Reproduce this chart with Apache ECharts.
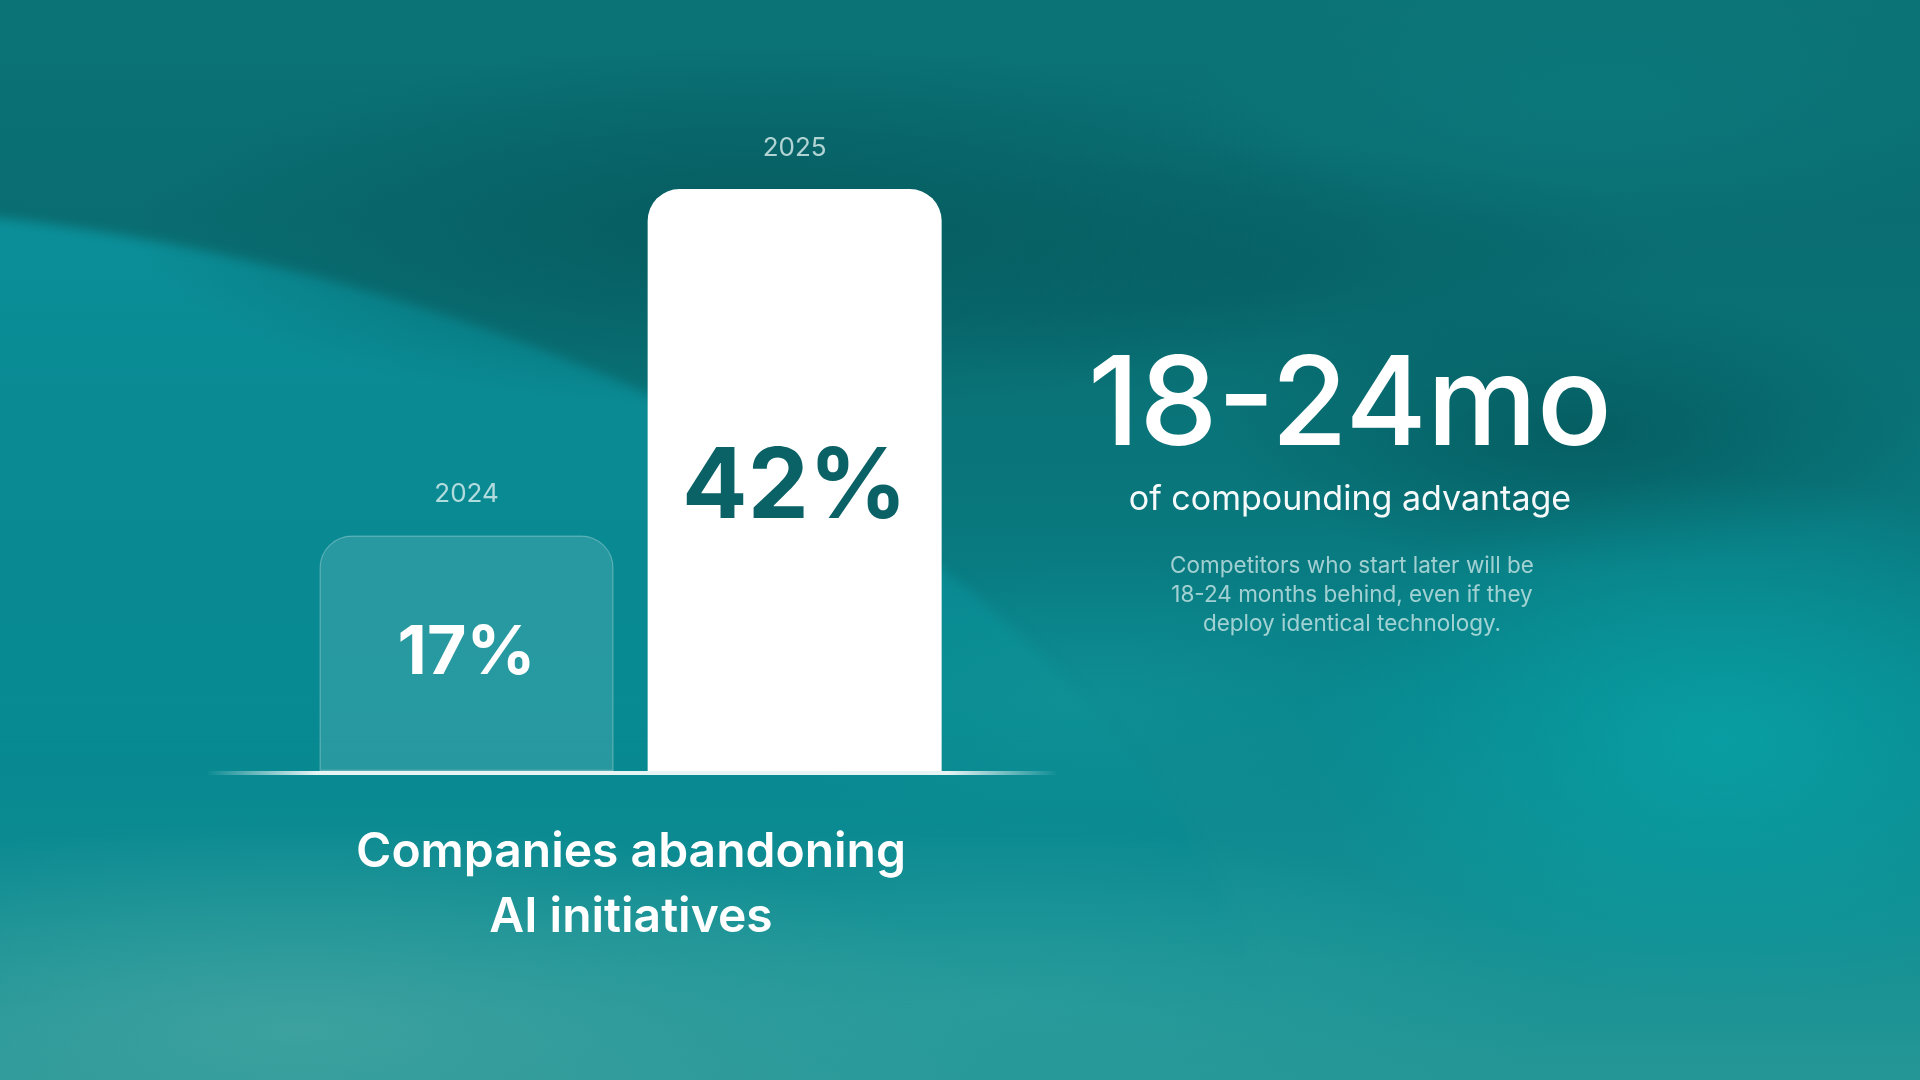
<!DOCTYPE html>
<html>
<head>
<meta charset="utf-8">
<script src="https://cdn.jsdelivr.net/npm/echarts@6/dist/echarts.min.js"></script>
<style>
html,body{margin:0;padding:0;width:1920px;height:1080px;overflow:hidden;background:#0a6e72;}
.l{position:absolute;}
#base{left:0;top:0;width:1920px;height:1080px;
background:linear-gradient(180deg,#0b7376 0%,#0a6d71 20%,#09767b 45%,#08858d 65%,#138f93 85%,#259696 100%);}
#streak{left:0;top:0;width:1920px;height:1080px;
background:
radial-gradient(ellipse 900px 260px at 760px 230px, rgba(4,88,92,0.85), rgba(4,88,92,0) 70%),
radial-gradient(ellipse 520px 200px at 1580px 430px, rgba(4,90,94,0.85), rgba(4,90,94,0) 70%),
radial-gradient(ellipse 650px 180px at 1250px 270px, rgba(4,92,96,0.6), rgba(4,92,96,0) 70%),
radial-gradient(ellipse 600px 220px at 1600px 100px, rgba(12,124,128,0.6), rgba(12,124,128,0) 70%);}
#band{left:-1900px;top:200px;width:3200px;height:2000px;border-radius:50%;
background:linear-gradient(180deg,#0b8f99 0%,#0a8a93 12%,#088a92 25%,rgba(8,136,144,0) 40%);
filter:blur(6px);}
#glow{left:0;top:0;width:1920px;height:1080px;
background:
radial-gradient(ellipse 1000px 300px at 300px 1030px, rgba(62,162,160,0.95), rgba(62,162,160,0) 70%),
radial-gradient(ellipse 800px 250px at 1000px 1000px, rgba(45,158,158,0.7), rgba(45,158,158,0) 70%),
radial-gradient(ellipse 600px 380px at 1720px 740px, rgba(8,160,164,0.9), rgba(8,160,164,0) 70%),
radial-gradient(ellipse 500px 200px at 1100px 700px, rgba(20,150,152,0.5), rgba(20,150,152,0) 70%);}
#chart{position:absolute;left:0;top:0;width:1920px;height:1080px;}
</style>
</head>
<body>
<div class="l" id="base"></div>
<div class="l" id="band"></div>
<div class="l" id="streak"></div>
<div class="l" id="glow"></div>
<div id="chart"></div>
<script>
const categories = ['2024', '2025'];
const values = [17, 42];
const valueLabels = ['17%', '42%'];
const chartTitle = 'Companies abandoning\nAI initiatives';
const statHeadline = '18-24mo';
const statSub = 'of compounding advantage';
const statNote = 'Competitors who start later will be\n18-24 months behind, even if they\ndeploy identical technology.';

const chart = echarts.init(document.getElementById('chart'), null, {renderer: 'canvas'});
const FONT = 'Inter, "Noto Sans", sans-serif';

const barStyles = [
  {color: 'rgba(255,255,255,0.13)', borderColor: 'rgba(255,255,255,0.28)', borderWidth: 1.2, borderRadius: [32,32,0,0]},
  {color: '#ffffff', borderRadius: [32,32,0,0]}
];
const labelStyles = [
  {fontSize: 68, fontWeight: 700, color: '#ffffff', offset: [0, 0]},
  {fontSize: 97, fontWeight: 700, color: '#0b6266', offset: [0, 9]}
];

chart.setOption({
  backgroundColor: 'transparent',
  animation: false,
  title: [
    {text: chartTitle, left: 626, top: 815, textAlign: 'center',
     textStyle: {fontFamily: FONT, fontSize: 48, fontWeight: 600, color: '#ffffff', lineHeight: 65}},
    {text: statHeadline, left: 1345, top: 341, textAlign: 'center',
     textStyle: {fontFamily: FONT, fontSize: 124, fontWeight: 500, color: '#ffffff', lineHeight: 124}},
    {text: statSub, left: 1345, top: 476, textAlign: 'center',
     textStyle: {fontFamily: FONT, fontSize: 34, fontWeight: 400, color: 'rgba(255,255,255,0.96)', lineHeight: 38}},
    {text: statNote, left: 1347, top: 547, textAlign: 'center',
     textStyle: {fontFamily: FONT, fontSize: 22.5, fontWeight: 400, color: 'rgba(220,240,240,0.72)', lineHeight: 29, align: 'center'}}
  ],
  grid: {left: 302.5, right: 961.3, top: 92, bottom: 309, containLabel: false},
  xAxis: {
    type: 'category', data: categories,
    axisLine: {show: false}, axisTick: {show: false}, axisLabel: {show: false}
  },
  yAxis: {type: 'value', min: 0, max: 49, show: false, splitLine: {show: false}},
  series: [
    {
      type: 'bar', barWidth: 294, z: 2,
      data: values.map((v, i) => ({
        value: v,
        itemStyle: barStyles[i],
        label: Object.assign({show: true, position: 'inside', formatter: valueLabels[i], fontFamily: FONT}, labelStyles[i])
      }))
    },
    {
      type: 'bar', barWidth: 294, barGap: '-100%', z: 1,
      itemStyle: {color: 'transparent'},
      label: {show: true, position: 'top', distance: 28, formatter: '{b}',
        fontFamily: FONT, fontSize: 26, fontWeight: 400, color: 'rgba(225,242,242,0.78)'},
      data: values
    }
  ],
  graphic: [
    {type: 'line', z: 10, shape: {x1: 208, y1: 773, x2: 1056, y2: 773},
     style: {lineWidth: 4, stroke: new echarts.graphic.LinearGradient(0,0,1,0,[
       {offset: 0, color: 'rgba(255,255,255,0)'},
       {offset: 0.13, color: 'rgba(255,255,255,0.9)'},
       {offset: 0.87, color: 'rgba(255,255,255,0.9)'},
       {offset: 1, color: 'rgba(255,255,255,0)'}])}}
  ]
});
</script>
</body>
</html>
